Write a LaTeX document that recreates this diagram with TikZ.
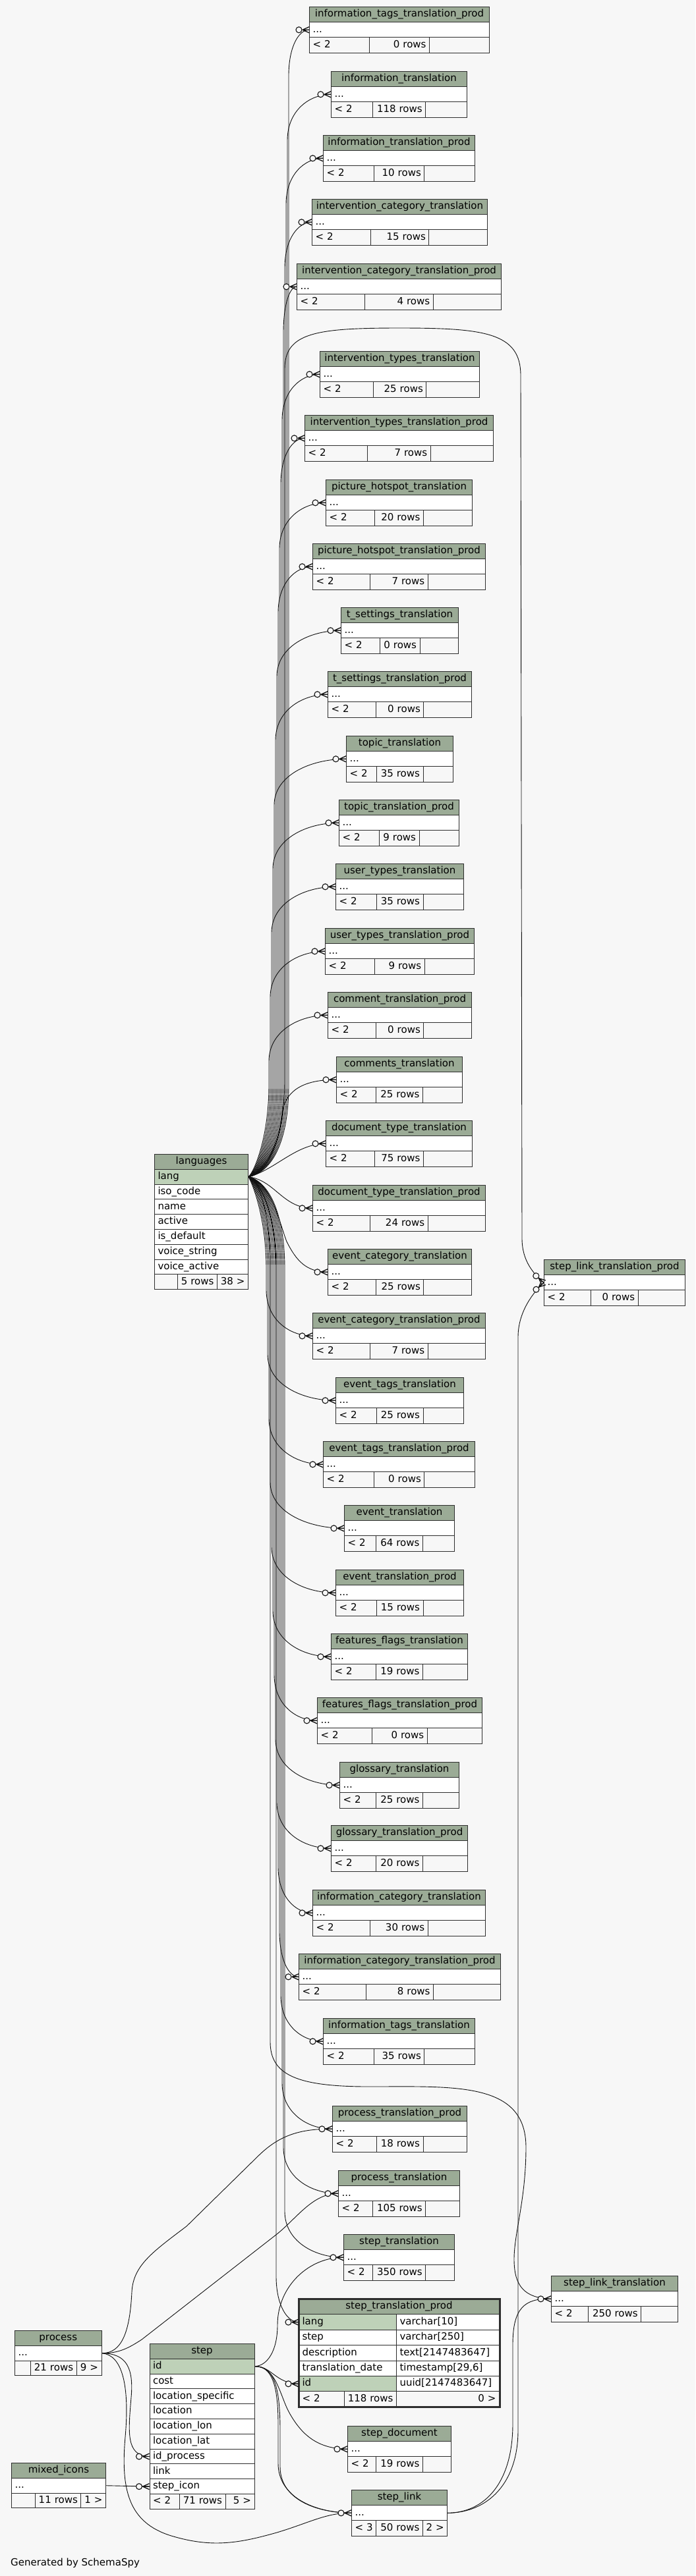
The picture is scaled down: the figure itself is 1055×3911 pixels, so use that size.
\documentclass[tikz,border=0pt]{standalone}
\usepackage{fontspec}
\setmainfont{DejaVu Sans}
\usetikzlibrary{calc}
\definecolor{bgc}{HTML}{F7F7F7}
\definecolor{hdrc}{HTML}{9BAB96}
\definecolor{pkc}{HTML}{BED1B8}
\definecolor{bordc}{HTML}{2E2E2E}
\definecolor{edgec}{HTML}{111111}
\newcommand\dv{\fontsize{15}{18}\selectfont}
\pgfdeclarelayer{bottom}
\pgfdeclarelayer{edges}
\pgfsetlayers{bottom,edges,main}
\tikzset{
 x=1pt,y=-1pt,
 cell/.style={draw=bordc,line width=1pt,anchor=north west,minimum height=23.2pt,inner xsep=5pt,inner ysep=0pt,text height=11pt,text depth=3.5pt,font=\dv,text=black},
 hc/.style={cell,fill=hdrc},
 rc/.style={cell,fill=white},
 pk/.style={cell,fill=pkc},
 fc/.style={cell,fill=bgc},
 fk/.style={draw=edgec,line width=0.9pt},
 crowo/.pic={\draw[edgec,line width=1.3pt] (-10,0) -- (0,-4.5) (-10,0) -- (0,4.5) (-10,0) -- (0,0);
   \draw[edgec,line width=1.1pt,fill=bgc] (-15.5,0) circle[radius=4.5pt];}
}
% column table: id, x, y, W, title, foot1, foot2, foot3, min middle width
\newcommand\ctab[9]{%
 \pgfmathsetmacro\cb{max(#4/3,#9)}%
 \pgfmathsetmacro\ca{(#4-\cb)/2}%
 \pgfmathsetmacro\caw{\ca-10}%
 \pgfmathsetmacro\cbw{\cb-10}%
 \pgfmathsetmacro\cw{#4-10}%
 \node[hc,minimum width=#4pt] (#1h) at (#2,#3) {#5};
 \node[rc,text width=\cw pt,align=left] (#1) at (#2,#3+23.2) {...};
 \node[fc,text width=\caw pt,align=left] (#1a) at (#2,#3+46.4) {\mbox{#6}};
 \node[fc,text width=\caw pt,align=right] (#1c) at (#2+\ca+\cb,#3+46.4) {\mbox{#8}};
 \node[fc,text width=\cbw pt,align=right] (#1b) at (#2+\ca,#3+46.4) {\mbox{#7}};
}
\def\one{61}\def\two{71}\def\three{80.5}
\def\rh{22.8}
\newcommand\frow[6]{\pgfmathsetmacro\cw{#4-10}\node[#6,text width=\cw pt,align=left,minimum height=\rh pt] (#1) at (#2,#3) {\mbox{#5}};}
\newcommand\fcel[6]{\pgfmathsetmacro\cw{#4-10}\node[fc,text width=\cw pt,align=#6,minimum height=\rh pt] (#1) at (#2,#3) {\mbox{#5}};}
\newcommand\fkup[2]{%
 \draw[fk] let \p1=(#1.west), \p2=(lang.east) in
  (lang.east) .. controls (#2pt-22pt,\y2+8pt) and (#2pt,\y2+60pt) .. (#2pt,\y2+140pt)
  -- (#2pt,\y1-70pt) .. controls (#2pt,\y1-25pt) and ({(\x1+#2pt)/2},\y1) .. (#1.west);}
\newcommand\fkdn[2]{%
 \draw[fk] let \p1=(#1.west), \p2=(lang.east) in
  (lang.east) .. controls (#2pt-22pt,\y2-8pt) and (#2pt,\y2-60pt) .. (#2pt,\y2-140pt)
  -- (#2pt,\y1+70pt) .. controls (#2pt,\y1+25pt) and ({(\x1+#2pt)/2},\y1) .. (#1.west);}
\begin{document}
\begin{tikzpicture}
\begin{pgfonlayer}{bottom}
\fill[bgc] (0,0) rectangle (1055,3911);
\end{pgfonlayer}
\useasboundingbox (0,0) rectangle (1055,3911);

% ---------------- column tables ----------------
\ctab{Titp}{469}{10}{273}{information\_tags\_translation\_prod}{< 2}{0 rows}{}{\one}
\ctab{Tit}{502}{108}{206}{information\_translation}{< 2}{118 rows}{}{\three}
\ctab{Titrp}{490}{205}{230}{information\_translation\_prod}{< 2}{10 rows}{}{\two}
\ctab{Tict}{473}{302}{266}{intervention\_category\_translation}{< 2}{15 rows}{}{\two}
\ctab{Tictp}{450}{400}{310}{intervention\_category\_translation\_prod}{< 2}{4 rows}{}{\one}
\ctab{Tity}{485}{533}{242}{intervention\_types\_translation}{< 2}{25 rows}{}{\two}
\ctab{Tityp}{462}{630}{286}{intervention\_types\_translation\_prod}{< 2}{7 rows}{}{\one}
\ctab{Tpht}{494}{728}{222}{picture\_hotspot\_translation}{< 2}{20 rows}{}{\two}
\ctab{Tphtp}{474}{825}{262}{picture\_hotspot\_translation\_prod}{< 2}{7 rows}{}{\one}
\ctab{Ttst}{517}{922}{178}{t\_settings\_translation}{< 2}{0 rows}{}{\one}
\ctab{Ttstp}{497}{1019}{218}{t\_settings\_translation\_prod}{< 2}{0 rows}{}{\one}
\ctab{Ttt}{525}{1117}{162}{topic\_translation}{< 2}{35 rows}{}{\two}
\ctab{Tttp}{514}{1214}{182}{topic\_translation\_prod}{< 2}{9 rows}{}{\one}
\ctab{Tutt}{509}{1311}{194}{user\_types\_translation}{< 2}{35 rows}{}{\two}
\ctab{Tutp}{493}{1409}{226}{user\_types\_translation\_prod}{< 2}{9 rows}{}{\one}
\ctab{Tctp}{497}{1506}{218}{comment\_translation\_prod}{< 2}{0 rows}{}{\one}
\ctab{Tcmt}{510}{1604}{191}{comments\_translation}{< 2}{25 rows}{}{\two}
\ctab{Tdtt}{494}{1701}{222}{document\_type\_translation}{< 2}{75 rows}{}{\two}
\ctab{Tdtp}{474}{1799}{262}{document\_type\_translation\_prod}{< 2}{24 rows}{}{\two}
\ctab{Tect}{497}{1896}{218}{event\_category\_translation}{< 2}{25 rows}{}{\two}
\ctab{Tectp}{474}{1993}{262}{event\_category\_translation\_prod}{< 2}{7 rows}{}{\one}
\ctab{Tett}{509}{2091}{194}{event\_tags\_translation}{< 2}{25 rows}{}{\two}
\ctab{Tettp}{490}{2188}{230}{event\_tags\_translation\_prod}{< 2}{0 rows}{}{\one}
\ctab{Tet}{522}{2285}{167}{event\_translation}{< 2}{64 rows}{}{\two}
\ctab{Tetp}{509}{2383}{194}{event\_translation\_prod}{< 2}{15 rows}{}{\two}
\ctab{Tfft}{502}{2480}{207}{features\_flags\_translation}{< 2}{19 rows}{}{\two}
\ctab{Tfftp}{481}{2577}{250}{features\_flags\_translation\_prod}{< 2}{0 rows}{}{\one}
\ctab{Tgt}{515}{2675}{181}{glossary\_translation}{< 2}{25 rows}{}{\two}
\ctab{Tgtp}{502}{2771}{207}{glossary\_translation\_prod}{< 2}{20 rows}{}{\two}
\ctab{Tinfct}{474}{2869}{262}{information\_category\_translation}{< 2}{30 rows}{}{\two}
\ctab{Tinfctp}{453}{2966}{306}{information\_category\_translation\_prod}{< 2}{8 rows}{}{\one}
\ctab{Tintt}{490}{3064}{230}{information\_tags\_translation}{< 2}{35 rows}{}{\two}
\ctab{Tptp}{504}{3197}{204}{process\_translation\_prod}{< 2}{18 rows}{}{\two}
\ctab{Tpt}{513}{3295}{184}{process\_translation}{< 2}{105 rows}{}{\three}
\ctab{Tst}{521}{3392}{168}{step\_translation}{< 2}{350 rows}{}{\three}
\ctab{Tsd}{527}{3683}{157}{step\_document}{< 2}{19 rows}{}{\two}
\ctab{Tsl}{533}{3780}{145}{step\_link}{< 3}{50 rows}{2 >}{\two}
\ctab{Tslt}{836}{3455}{192}{step\_link\_translation}{< 2}{250 rows}{}{\three}
\ctab{Tslp}{825}{1912}{214}{step\_link\_translation\_prod}{< 2}{0 rows}{}{\one}

% ---------------- languages ----------------
\def\rh{22.8}
\node[hc,minimum width=142pt,minimum height=22.8pt] (lngh) at (234,1752) {languages};
\frow{lang}{234}{1774.8}{142}{lang}{pk}
\frow{lngb}{234}{1797.6}{142}{iso\_code}{rc}
\frow{lngc}{234}{1820.4}{142}{name}{rc}
\frow{lngd}{234}{1843.2}{142}{active}{rc}
\frow{lnge}{234}{1866}{142}{is\_default}{rc}
\frow{lngf}{234}{1888.8}{142}{voice\_string}{rc}
\frow{lngg}{234}{1911.6}{142}{voice\_active}{rc}
\fcel{lngfa}{234}{1934.4}{35}{}{left}
\fcel{lngfc}{329}{1934.4}{47}{38 >}{right}
\fcel{lngfb}{269}{1934.4}{60}{5 rows}{right}

% ---------------- step ----------------
\node[hc,minimum width=159pt,minimum height=22.8pt] (steph) at (226.5,3558) {step};
\frow{stid}{226.5}{3580.8}{159}{id}{pk}
\frow{stcost}{226.5}{3603.6}{159}{cost}{rc}
\frow{stls}{226.5}{3626.4}{159}{location\_specific}{rc}
\frow{stloc}{226.5}{3649.2}{159}{location}{rc}
\frow{stlon}{226.5}{3672}{159}{location\_lon}{rc}
\frow{stlat}{226.5}{3694.8}{159}{location\_lat}{rc}
\frow{stidp}{226.5}{3717.6}{159}{id\_process}{rc}
\frow{stlink}{226.5}{3740.4}{159}{link}{rc}
\frow{sticon}{226.5}{3763.2}{159}{step\_icon}{rc}
\fcel{stfa}{226.5}{3786}{45.3}{< 2}{left}
\fcel{stfc}{341.5}{3786}{44}{5 >}{right}
\fcel{stfb}{271.8}{3786}{69.7}{71 rows}{right}

% ---------------- process ----------------
\node[hc,minimum width=131.5pt,minimum height=22.8pt] (proch) at (22,3538) {process};
\frow{proc}{22}{3560.8}{131.5}{...}{rc}
\fcel{procfa}{22}{3583.6}{24.3}{}{left}
\fcel{procfc}{115.6}{3583.6}{37.9}{9 >}{right}
\fcel{procfb}{46.3}{3583.6}{69.3}{21 rows}{right}

% ---------------- mixed_icons ----------------
\node[hc,minimum width=143pt,minimum height=22.8pt] (mih) at (17,3739) {mixed\_icons};
\frow{mi}{17}{3761.8}{143}{...}{rc}
\fcel{mifa}{17}{3784.6}{36}{}{left}
\fcel{mifc}{122.4}{3784.6}{37.6}{1 >}{right}
\fcel{mifb}{53}{3784.6}{69.4}{11 rows}{right}

% ---------------- step_translation_prod ----------------
\def\rh{23.4}
\node[hc,minimum width=304pt,minimum height=23.4pt] (stph) at (453,3490) {step\_translation\_prod};
\frow{stplang}{453}{3513.4}{148}{lang}{pk}
\frow{stplangt}{601}{3513.4}{156}{varchar[10]}{rc}
\frow{stpstep}{453}{3536.8}{148}{step}{rc}
\frow{stpstept}{601}{3536.8}{156}{varchar[250]}{rc}
\frow{stpdesc}{453}{3560.2}{148}{description}{rc}
\frow{stpdesct}{601}{3560.2}{156}{text[2147483647]}{rc}
\frow{stpdate}{453}{3583.6}{148}{translation\_date}{rc}
\frow{stpdatet}{601}{3583.6}{156}{timestamp[29,6]}{rc}
\frow{stpid}{453}{3607}{148}{id}{pk}
\frow{stpidt}{601}{3607}{156}{uuid[2147483647]}{rc}
\fcel{stpfa}{453}{3630.4}{69}{< 2}{left}
\fcel{stpfb}{522}{3630.4}{79}{118 rows}{right}
\fcel{stpfc}{601}{3630.4}{156}{0 >}{right}
\draw[bordc,line width=3pt] (stph.north west) rectangle (stpfc.south east);

\node[anchor=base west,font=\dv,inner sep=0pt] (gen) at (16,3895) {Generated by SchemaSpy};

% ---------------- connectors ----------------
\begin{pgfonlayer}{edges}
\fkup{Titp}{438}
\fkup{Tit}{436}
\fkup{Titrp}{434}
\fkup{Tict}{432}
\fkup{Tictp}{430}
\fkup{Tity}{428}
\fkup{Tityp}{426}
\fkup{Tpht}{424}
\fkup{Tphtp}{422}
\fkup{Ttst}{420}
\fkup{Ttstp}{418}
\fkup{Ttt}{416}
\fkup{Tttp}{414}
\fkup{Tutt}{412}
\fkup{Tutp}{410}
\fkup{Tctp}{408}
\draw[fk] (lang.east) .. controls +(40,-10) and +(-45,0) .. (Tdtt.west);
\draw[fk] (lang.east) .. controls +(35,-15) and (425,1720) .. (428,1690) .. controls (432,1660) and (455,1638.8) .. (Tcmt.west);
\draw[fk] (lang.east) .. controls +(40,5) and +(-45,0) .. (Tdtp.west);
\draw[fk] (lang.east) .. controls +(35,8) and (425,1860) .. (435,1885) .. controls (450,1915) and (465,1930.8) .. (Tect.west);
\fkdn{Tectp}{404}
\fkdn{Tett}{406}
\fkdn{Tettp}{408}
\fkdn{Tet}{410}
\fkdn{Tetp}{412}
\fkdn{Tfft}{414}
\fkdn{Tfftp}{416}
\fkdn{Tgt}{418}
\fkdn{Tgtp}{420}
\fkdn{Tinfct}{422}
\fkdn{Tinfctp}{424}
\fkdn{Tintt}{426}
\fkdn{Tptp}{428}
\fkdn{Tpt}{430}
\fkdn{Tst}{432}
\fkdn{stplang}{419}
% languages -> step_link_translation_prod (loop over the top)
\draw[fk] (lang.east) .. controls (410,1780) and (432,1720) .. (432,1640) -- (432,560)
  .. controls (432,505) and (480,498) .. (606,498) .. controls (735,498) and (790,505) .. (790,570)
  -- (792,1880) .. controls (792,1915) and +(-15,-13) .. (Tslp.west);
% languages -> step_link_translation
\draw[fk] (lang.east) .. controls (395,1792) and (410,1850) .. (410,1920) -- (410,3100)
  .. controls (410,3150) and (450,3168) .. (560,3168) .. controls (690,3168) and (798,3160) .. (798,3260)
  .. controls (798,3340) and (780,3390) .. (780,3430) .. controls (780,3470) and (795,3489) .. (Tslt.west);
% step_link -> step_link_translation_prod / step_link_translation
\draw[fk] (Tsl.east) .. controls (740,3815) and (786,3770) .. (786,3690) -- (786,2030)
  .. controls (786,1990) and +(-14,13) .. (Tslp.west);
\draw[fk] (Tsl.east) .. controls (735,3815) and (778,3770) .. (778,3680) -- (778,3560)
  .. controls (778,3505) and (795,3489) .. (Tslt.west);
% process edges
\draw[fk] (proc.east) .. controls (185,3573) and (197,3540) .. (200,3480) .. controls (202,3440) and (230,3420) .. (283,3380)
  -- (390,3275) .. controls (420,3245) and (450,3231.6) .. (Tptp.west);
\draw[fk] (proc.east) .. controls (180,3573) and (195,3565) .. (215,3552) -- (420,3392)
  .. controls (450,3368) and (475,3329.6) .. (Tpt.west);
\draw[fk] (proc.east) .. controls (192,3573) and (203,3595) .. (199,3640) .. controls (195,3690) and (190,3729) .. (stidp.west);
\draw[fk] (proc.east) .. controls (185,3575) and (197,3620) .. (190,3700) .. controls (183,3780) and (195,3830) .. (260,3850)
  .. controls (320,3868) and (360,3862) .. (420,3845) .. controls (470,3830) and (495,3814.8) .. (Tsl.west);
% mixed_icons -> step
\draw[fk] (mi.east) -- (sticon.west);
% step edges
\draw[fk] (stid.east) .. controls (405,3592) and (421,3570) .. (421,3530) .. controls (421,3470) and (470,3426.6) .. (Tst.west);
\draw[fk] (stid.east) .. controls (412,3592) and (418,3618.7) .. (stpid.west);
\draw[fk] (stid.east) .. controls (420,3592) and (425,3640) .. (440,3665) .. controls (460,3700) and (485,3717.8) .. (Tsd.west);
\draw[fk] (stid.east) .. controls (412,3592) and (422,3620) .. (422,3680) -- (422,3740) .. controls (422,3790) and (475,3814.8) .. (Tsl.west);
\draw[fk] (stid.east) .. controls (416,3592) and (425,3625) .. (425,3690) -- (425,3745) .. controls (425,3795) and (480,3814.8) .. (Tsl.west);
\end{pgfonlayer}

% ---------------- end markers ----------------
\foreach \t in {Titp,Tit,Titrp,Tict,Tictp,Tity,Tityp,Tpht,Tphtp,Ttst,Ttstp,Ttt,Tttp,Tutt,Tutp,Tctp,Tcmt,Tdtt,Tdtp,Tect,Tectp,Tett,Tettp,Tet,Tetp,Tfft,Tfftp,Tgt,Tgtp,Tinfct,Tinfctp,Tintt,Tptp,Tpt,Tst,Tsd,Tsl,Tslt,stplang,stpid,stidp,sticon}
  {\pic at (\t.west) {crowo};}
\pic[rotate=-41] at (Tslp.west) {crowo};
\pic[rotate=42] at (Tslp.west) {crowo};
\end{tikzpicture}
\end{document}
